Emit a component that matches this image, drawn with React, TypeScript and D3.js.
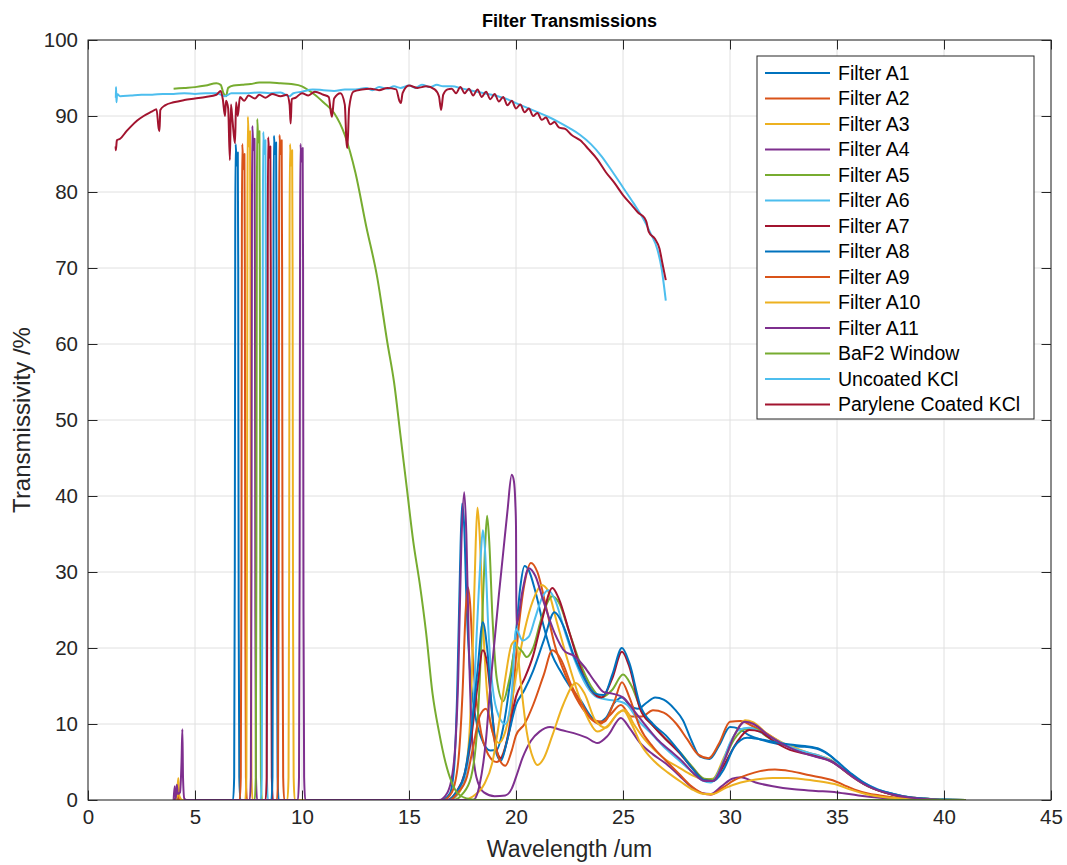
import React, { useEffect, useRef } from 'react'
import * as d3 from 'd3'

type Pt = [number, number]

const seriesNames = [
  'Filter A1', 'Filter A2', 'Filter A3', 'Filter A4', 'Filter A5', 'Filter A6',
  'Filter A7', 'Filter A8', 'Filter A9', 'Filter A10', 'Filter A11',
  'BaF2 Window', 'Uncoated KCl', 'Parylene Coated KCl',
]

const seriesColors = [
  '#0072BD', '#D95319', '#EDB120', '#7E2F8E', '#77AC30', '#4DBEEE', '#A2142F',
  '#0072BD', '#D95319', '#EDB120', '#7E2F8E', '#77AC30', '#4DBEEE', '#A2142F',
]

const xTicks = [0, 5, 10, 15, 20, 25, 30, 35, 40, 45]
const yTicks = [0, 10, 20, 30, 40, 50, 60, 70, 80, 90, 100]

// near-IR side lobes (~4 um)
const nearA1: Pt[] = [[4.0, 0], [4.08, 0], [4.12, 1.5], [4.16, 0.2], [4.3, 0]]
const nearA2: Pt[] = [[4.0, 0], [4.15, 0.4], [4.2, 1.2], [4.25, 0.2], [4.35, 0]]
const nearA4: Pt[] = [[4.0, 0], [4.05, 1.8], [4.1, 0.5], [4.2, 0]]
const nearA10: Pt[] = [[4.0, 0], [4.15, 0.3], [4.22, 2.9], [4.27, 0.5], [4.4, 0]]
const nearA11: Pt[] = [[4.0, 0], [4.1, 0.3], [4.15, 2], [4.2, 0.8], [4.3, 1], [4.37, 5], [4.41, 9.3], [4.44, 3], [4.5, 0.2], [4.6, 0]]
const nearNone: Pt[] = [[4.0, 0]]

// pass bands
const passA1: Pt[] = [[6.78, 0], [6.83, 3], [6.86, 30], [6.88, 75], [6.9, 86.3], [6.95, 83.5], [7.0, 85.2], [7.02, 70], [7.04, 25], [7.07, 3], [7.12, 0]]
const passA2: Pt[] = [[7.09, 0], [7.14, 3], [7.17, 30], [7.19, 75], [7.21, 86.3], [7.26, 83], [7.31, 85], [7.33, 70], [7.35, 25], [7.38, 3], [7.43, 0]]
const passA3: Pt[] = [[7.35, 0], [7.4, 3], [7.43, 32], [7.45, 78], [7.47, 89.9], [7.52, 86], [7.57, 88], [7.59, 72], [7.61, 26], [7.64, 3], [7.69, 0]]
const passA4: Pt[] = [[7.56, 0], [7.61, 3], [7.64, 31], [7.66, 77], [7.68, 88.7], [7.73, 85.5], [7.78, 87], [7.8, 71], [7.82, 25], [7.85, 3], [7.9, 0]]
const passA5: Pt[] = [[7.79, 0], [7.84, 3], [7.87, 32], [7.89, 78], [7.91, 89.6], [7.96, 86.5], [8.01, 88], [8.03, 72], [8.05, 26], [8.08, 3], [8.13, 0]]
const passA6: Pt[] = [[8.07, 0], [8.12, 3], [8.15, 31], [8.17, 76], [8.19, 87.9], [8.24, 85], [8.29, 86.8], [8.31, 70], [8.33, 25], [8.36, 3], [8.41, 0]]
const passA7: Pt[] = [[8.3, 0], [8.35, 3], [8.38, 30], [8.4, 75], [8.42, 87.2], [8.47, 84.5], [8.52, 86], [8.54, 70], [8.56, 25], [8.59, 3], [8.64, 0]]
const passA8: Pt[] = [[8.57, 0], [8.62, 3], [8.65, 30], [8.67, 76], [8.69, 87.4], [8.74, 85], [8.79, 86.5], [8.81, 70], [8.83, 25], [8.86, 3], [8.91, 0]]
const passA9: Pt[] = [[8.83, 0], [8.88, 3], [8.91, 30], [8.93, 76], [8.95, 87.5], [9.0, 85], [9.05, 86.8], [9.07, 70], [9.09, 25], [9.12, 3], [9.17, 0]]
const passA10: Pt[] = [[9.32, 0], [9.37, 3], [9.4, 30], [9.42, 75], [9.44, 86.3], [9.49, 83.5], [9.54, 85.5], [9.56, 70], [9.58, 25], [9.61, 3], [9.66, 0]]
const passA11: Pt[] = [[9.81, 0], [9.86, 3], [9.89, 30], [9.91, 75], [9.93, 86.3], [9.98, 84], [10.03, 85.8], [10.05, 70], [10.07, 25], [10.1, 3], [10.15, 0]]

// long-wave leaks
const leakA1: Pt[] = [[16.5, 0], [16.9, 0.8], [17.1, 4], [17.25, 14], [17.38, 30], [17.48, 39], [17.58, 36], [17.7, 25], [17.85, 17], [18.1, 11], [18.4, 8], [18.8, 6.5], [19.1, 6.6], [19.4, 9.5], [19.7, 15], [20.0, 22], [20.2, 28], [20.4, 30.8], [20.6, 30.2], [20.9, 27.5], [21.3, 22.8], [21.7, 19], [22.05, 17.1], [22.5, 15], [23.0, 13.2], [23.5, 11], [23.8, 10.2], [24.2, 10.8], [24.6, 12.8], [24.95, 13.5], [25.3, 12.5], [25.7, 12], [26.1, 12.8], [26.5, 13.5], [26.9, 13.2], [27.4, 12], [27.8, 10.5], [28.2, 7.8], [28.6, 5.7], [29.05, 5.4], [29.5, 7.2], [30.0, 9.6], [30.4, 9.4], [30.9, 8.5], [31.5, 7.9], [32.2, 7.4], [32.8, 7.1], [33.5, 7.0], [34.2, 6.6], [34.7, 5.8], [35.0, 5.0], [35.4, 4.0], [35.8, 3.0], [36.2, 2.2], [36.7, 1.5], [37.5, 0.9], [38.3, 0.4], [39.1, 0.2], [40, 0.05], [41, 0]]
const leakA2: Pt[] = [[16.6, 0], [17.0, 1], [17.3, 5], [17.5, 14], [17.65, 25], [17.75, 28], [17.85, 26], [18.0, 18], [18.3, 10], [18.7, 6], [19.1, 5], [19.5, 7], [19.8, 12], [20.1, 22], [20.4, 28.5], [20.7, 31.2], [21.0, 30], [21.4, 25.5], [21.8, 20.5], [22.3, 16.5], [22.8, 13.5], [23.4, 11], [23.9, 10], [24.4, 11.2], [24.9, 12.5], [25.4, 11], [25.9, 11], [26.4, 11.8], [26.9, 11.5], [27.5, 10], [28.0, 8], [28.5, 6], [29.0, 5.5], [29.5, 7.5], [30.0, 10.3], [30.5, 10.4], [31.0, 9.8], [31.8, 8.6], [32.6, 7.2], [33.4, 6.3], [34.2, 5.8], [35.0, 4.6], [35.5, 3.5], [36.0, 2.5], [36.6, 1.6], [37.2, 1.0], [38.0, 0.5], [39.0, 0.2], [40, 0.05], [41, 0]]
const leakA3: Pt[] = [[16.9, 0], [17.3, 0.8], [17.6, 3], [17.85, 10], [18.0, 22], [18.12, 34], [18.2, 38.5], [18.3, 35], [18.45, 24], [18.65, 14], [18.9, 9], [19.2, 7.5], [19.5, 9], [19.8, 13], [20.1, 18], [20.5, 23.5], [20.9, 27], [21.2, 28.3], [21.5, 27.5], [21.9, 23.5], [22.4, 18.5], [22.9, 14], [23.4, 10.5], [23.8, 9], [24.3, 9.8], [24.8, 11.5], [25.1, 11.8], [25.5, 10], [26.0, 8], [26.5, 6.5], [27.0, 5.3], [27.6, 4.3], [28.2, 3.3], [28.8, 2.7], [29.2, 2.8], [29.7, 5.5], [30.2, 8.5], [30.7, 10.5], [31.1, 10.2], [31.7, 8.8], [32.4, 7.6], [33.2, 6.7], [34.0, 5.9], [34.7, 5.3], [35.2, 4.3], [35.7, 3.2], [36.2, 2.2], [36.8, 1.4], [37.5, 0.8], [38.3, 0.4], [39.2, 0.15], [40, 0.05], [41, 0]]
const leakA4: Pt[] = [[16.4, 0], [16.8, 1], [17.1, 5], [17.3, 16], [17.45, 34], [17.58, 40.5], [17.68, 35], [17.8, 20], [17.95, 8], [18.15, 3], [18.5, 1], [19.0, 0.5], [19.5, 0.6], [19.8, 1.5], [20.0, 3], [20.3, 5.5], [20.7, 7.8], [21.1, 9], [21.6, 9.6], [22.1, 9.2], [22.7, 8.8], [23.3, 8.2], [23.8, 7.5], [24.3, 8.5], [24.9, 10.8], [25.3, 9.5], [25.8, 7.5], [26.4, 6], [27.0, 4.8], [27.6, 3.3], [28.2, 1.7], [28.7, 0.9], [29.1, 0.8], [29.6, 1.8], [30.1, 2.8], [30.5, 3.0], [31.2, 2.3], [32.0, 1.8], [33.0, 1.4], [34.0, 1.2], [35.0, 1.0], [36.0, 0.6], [37.0, 0.3], [38.0, 0.1], [39.0, 0], [41, 0]]
const leakA5: Pt[] = [[17.1, 0], [17.5, 0.8], [17.9, 3], [18.2, 10], [18.4, 22], [18.55, 33], [18.65, 37.4], [18.75, 34], [18.9, 24], [19.1, 16], [19.4, 13], [19.7, 16], [20.0, 20.2], [20.3, 19.5], [20.5, 18.8], [20.8, 20], [21.2, 24], [21.7, 26.8], [22.0, 26], [22.5, 22], [23.0, 18], [23.5, 15], [24.0, 13.5], [24.5, 14.5], [25.0, 16.5], [25.4, 15], [25.9, 11.5], [26.5, 9.5], [27.0, 8], [27.6, 6.5], [28.2, 4.5], [28.8, 2.8], [29.2, 2.7], [29.6, 4.5], [30.2, 8], [30.7, 9.3], [31.1, 9.4], [31.8, 8.2], [32.5, 7.3], [33.3, 6.4], [34.0, 5.8], [34.7, 5.2], [35.2, 4.2], [35.8, 3], [36.3, 2.1], [36.9, 1.3], [37.6, 0.7], [38.4, 0.3], [39.3, 0.1], [40, 0], [41, 0]]
const leakA6: Pt[] = [[16.9, 0], [17.3, 1], [17.7, 4], [18.0, 12], [18.2, 24], [18.35, 32], [18.45, 35.5], [18.55, 33], [18.7, 23], [18.9, 15], [19.2, 11], [19.5, 10], [19.8, 14], [20.0, 22.5], [20.3, 21], [20.6, 21.5], [20.9, 24], [21.2, 26.5], [21.5, 27.6], [21.8, 26.5], [22.3, 22], [22.8, 18], [23.3, 15], [23.8, 13.5], [24.3, 13.2], [24.8, 13], [25.2, 12.5], [25.7, 10.5], [26.3, 8.8], [26.9, 7], [27.5, 5.5], [28.1, 4], [28.7, 2.6], [29.1, 2.3], [29.6, 4.5], [30.0, 7.5], [30.4, 9.2], [30.9, 9.5], [31.5, 8.8], [32.2, 7.8], [33.0, 6.8], [33.7, 6.2], [34.4, 5.6], [35.0, 4.8], [35.5, 3.8], [36.0, 2.7], [36.6, 1.8], [37.3, 1.0], [38.1, 0.5], [39.0, 0.2], [40, 0.05], [41, 0]]
const leakA7: Pt[] = [[16.8, 0], [17.2, 1], [17.6, 3.5], [17.9, 8], [18.2, 15], [18.45, 19.7], [18.65, 18], [18.9, 11], [19.1, 6.5], [19.3, 5.5], [19.6, 8], [20.0, 13.6], [20.4, 16], [20.8, 19], [21.2, 23.5], [21.7, 27.9], [22.0, 26.5], [22.5, 22], [23.0, 17.5], [23.5, 14.5], [24.0, 13.5], [24.5, 16], [24.95, 19.5], [25.3, 17.5], [25.8, 12], [26.4, 9.8], [27.0, 8], [27.6, 6.3], [28.2, 4.3], [28.8, 2.6], [29.2, 2.5], [29.7, 4.5], [30.3, 7.5], [30.9, 9.2], [31.4, 9], [32.0, 7.8], [32.8, 6.6], [33.5, 6.1], [34.2, 5.6], [34.8, 5.0], [35.3, 4.0], [35.8, 3.0], [36.3, 2.1], [36.9, 1.3], [37.6, 0.7], [38.4, 0.3], [39.3, 0.1], [40, 0], [41, 0]]
const leakA8: Pt[] = [[16.8, 0], [17.2, 1], [17.6, 3.5], [17.9, 9], [18.2, 17], [18.45, 23.4], [18.65, 20], [18.9, 11], [19.1, 6], [19.3, 5.2], [19.6, 8], [20.0, 12.5], [20.4, 14.5], [20.8, 17], [21.3, 21], [21.8, 24.7], [22.2, 23], [22.7, 19], [23.2, 16], [23.7, 14], [24.1, 13.8], [24.5, 16.5], [24.95, 20], [25.3, 18], [25.8, 12.5], [26.4, 10], [27.0, 8.5], [27.6, 6.5], [28.2, 4.3], [28.8, 2.6], [29.2, 2.5], [29.7, 4], [30.2, 7], [30.8, 8.2], [31.4, 8], [32.1, 7.6], [32.8, 7.3], [33.5, 7.1], [34.2, 6.7], [34.8, 5.6], [35.2, 4.6], [35.7, 3.4], [36.2, 2.4], [36.8, 1.5], [37.5, 0.9], [38.3, 0.4], [39.1, 0.2], [40, 0.05], [41, 0]]
const leakA9: Pt[] = [[16.9, 0], [17.3, 1], [17.7, 3], [18.0, 7], [18.3, 11], [18.6, 12], [18.9, 9], [19.2, 5.5], [19.5, 4.5], [19.8, 6.5], [20.0, 8.5], [20.4, 10], [20.8, 12.5], [21.3, 16.5], [21.7, 19.7], [22.1, 18.5], [22.6, 15], [23.1, 12.5], [23.6, 10.5], [24.1, 10.3], [24.6, 13], [24.95, 15.5], [25.3, 13.5], [25.8, 9.5], [26.4, 7], [27.0, 5.2], [27.6, 3.5], [28.2, 1.8], [28.7, 0.9], [29.1, 0.7], [29.6, 1.5], [30.2, 2.6], [30.8, 3.3], [31.4, 3.8], [32.1, 4.0], [32.8, 3.8], [33.5, 3.4], [34.2, 3.0], [34.8, 2.6], [35.3, 2.0], [35.8, 1.4], [36.4, 0.9], [37.0, 0.6], [37.8, 0.3], [38.7, 0.1], [40, 0], [41, 0]]
const leakA10: Pt[] = [[17.5, 0], [18.0, 0.5], [18.5, 2], [18.9, 5], [19.2, 10], [19.5, 16], [19.8, 20.5], [20.0, 21], [20.2, 16], [20.5, 9], [20.8, 5.5], [21.0, 4.6], [21.3, 5.5], [21.7, 8.5], [22.2, 12.5], [22.8, 15.4], [23.2, 14], [23.7, 10.5], [24.2, 9.5], [24.7, 11.2], [25.0, 11.8], [25.4, 10], [25.9, 7], [26.5, 5], [27.1, 3.6], [27.7, 2.4], [28.3, 1.3], [28.8, 0.8], [29.2, 0.8], [29.8, 1.6], [30.5, 2.3], [31.2, 2.7], [32.0, 2.9], [32.7, 2.9], [33.5, 2.7], [34.3, 2.4], [35.0, 2.0], [35.6, 1.4], [36.2, 0.9], [36.9, 0.5], [37.7, 0.25], [38.6, 0.1], [40, 0], [41, 0]]
const leakA11: Pt[] = [[18.0, 0], [18.3, 2], [18.6, 8], [18.8, 15], [19.0, 21], [19.2, 27], [19.4, 32.5], [19.6, 38], [19.8, 42.8], [19.9, 42], [19.97, 39], [20.0, 36], [20.02, 23], [20.3, 27.5], [20.6, 30.5], [20.9, 29.5], [21.3, 26], [21.8, 22], [22.3, 19.5], [22.7, 19], [23.2, 17.5], [23.7, 15.5], [24.1, 14.2], [24.5, 14], [25.0, 13.5], [25.5, 11.8], [26.0, 10], [26.6, 8], [27.2, 6.5], [27.8, 5], [28.3, 3.5], [28.8, 2.5], [29.2, 2.5], [29.7, 5], [30.2, 8.5], [30.7, 10.3], [31.1, 10], [31.8, 8.5], [32.5, 7.3], [33.3, 6.3], [34.0, 5.7], [34.7, 5.1], [35.2, 4.2], [35.7, 3.1], [36.2, 2.2], [36.8, 1.4], [37.5, 0.8], [38.3, 0.35], [39.2, 0.1], [40, 0], [41, 0]]

const baf2Window: Pt[] = [[4.0, 93.6], [4.5, 93.7], [5.0, 93.8], [5.5, 94.0], [6.0, 94.3], [6.2, 94.1], [6.33, 93.0], [6.45, 92.6], [6.55, 93.7], [6.8, 94.0], [7.2, 94.1], [7.6, 94.2], [8.0, 94.4], [8.5, 94.4], [9.0, 94.3], [9.5, 94.2], [10.0, 93.9], [10.3, 93.4], [10.6, 92.8], [11.0, 91.8], [11.5, 90.4], [12.0, 87.5], [12.5, 82.5], [13.0, 75.5], [13.5, 69.0], [14.0, 60.0], [14.3, 55.0], [14.6, 48.0], [14.9, 41.0], [15.2, 34.0], [15.5, 28.5], [15.8, 22.0], [16.1, 14.0], [16.4, 9.0], [16.7, 5.0], [17.0, 2.3], [17.3, 0.8], [17.7, 0.2], [18.2, 0], [41, 0]]

const uncoatedKCl: Pt[] = [[1.3, 92.4], [1.31, 93.8], [1.33, 91.8], [1.36, 92.9], [1.5, 92.6], [2.0, 92.7], [2.5, 92.8], [3.0, 92.8], [3.5, 92.9], [4.0, 92.9], [4.5, 93.0], [5.0, 92.9], [5.5, 93.0], [6.0, 93.0], [6.4, 92.6], [6.7, 93.0], [7.0, 93.0], [7.5, 93.0], [8.0, 93.1], [8.5, 93.0], [9.0, 93.1], [9.4, 92.6], [9.6, 93.0], [10.0, 93.2], [10.5, 93.5], [11.0, 93.4], [11.5, 93.3], [12.0, 93.5], [12.5, 93.5], [13.0, 93.7], [13.3, 93.4], [13.6, 93.8], [14.0, 93.6], [14.3, 93.9], [14.6, 93.7], [15.0, 94.0], [15.3, 93.7], [15.6, 94.1], [16.0, 93.8], [16.3, 94.1], [16.6, 93.9], [17.0, 93.9], [17.5, 93.6], [18.0, 93.3], [18.5, 93.0], [19.0, 92.7], [19.5, 92.3], [20.0, 91.7], [20.5, 91.1], [21.0, 90.5], [21.5, 89.9], [22.0, 89.2], [22.5, 88.4], [23.0, 87.5], [23.5, 86.3], [24.0, 84.7], [24.5, 82.7], [25.0, 80.6], [25.5, 78.5], [26.0, 76.2], [26.3, 74.5], [26.6, 72.5], [26.8, 70.0], [27.0, 65.7]]

const paryleneKCl: Pt[] = [[1.29, 86.0], [1.3, 85.5], [1.35, 86.8], [1.5, 87.0], [1.8, 88.0], [2.0, 88.6], [2.3, 89.4], [2.6, 90.0], [3.0, 90.6], [3.2, 90.9], [3.3, 88.4], [3.34, 88.0], [3.38, 90.8], [3.6, 91.4], [4.0, 91.8], [4.5, 92.1], [5.0, 92.3], [5.5, 92.5], [6.0, 92.8], [6.2, 93.3], [6.3, 92.2], [6.4, 90.0], [6.45, 92.0], [6.55, 91.0], [6.63, 84.2], [6.68, 91.5], [6.75, 89.5], [6.87, 86.4], [6.92, 91.8], [7.0, 90.0], [7.1, 92.5], [7.3, 92.0], [7.5, 92.7], [7.8, 92.3], [8.0, 92.8], [8.3, 92.4], [8.6, 92.9], [9.0, 92.6], [9.3, 92.8], [9.42, 91.5], [9.47, 89.0], [9.52, 92.2], [9.7, 92.4], [10.0, 93.0], [10.3, 92.7], [10.6, 93.2], [11.0, 92.8], [11.25, 92.5], [11.35, 90.5], [11.4, 89.9], [11.5, 92.3], [11.8, 93.0], [12.0, 91.5], [12.08, 86.5], [12.12, 85.8], [12.2, 91.0], [12.4, 93.2], [12.8, 93.5], [13.2, 93.6], [13.6, 93.4], [14.0, 93.7], [14.4, 93.5], [14.55, 92.0], [14.62, 91.7], [14.7, 93.0], [15.0, 94.0], [15.4, 93.7], [15.8, 93.9], [16.2, 93.5], [16.4, 92.6], [16.5, 90.8], [16.6, 92.8], [16.8, 93.5], [17.0, 93.6], [17.2, 93.0], [17.4, 93.8], [17.6, 93.0], [17.8, 93.6], [18.0, 92.7], [18.2, 93.5], [18.4, 92.5], [18.6, 93.2], [18.8, 92.2], [19.0, 92.9], [19.2, 91.9], [19.4, 92.5], [19.6, 91.4], [19.8, 92.0], [20.0, 91.0], [20.2, 91.5], [20.4, 90.5], [20.6, 91.0], [20.8, 90.0], [21.0, 90.4], [21.2, 89.5], [21.4, 89.8], [21.6, 88.9], [21.8, 89.2], [22.0, 88.5], [22.3, 88.3], [22.6, 87.5], [23.0, 86.8], [23.4, 85.6], [23.8, 84.3], [24.2, 82.6], [24.6, 81.2], [25.0, 79.6], [25.4, 78.3], [25.7, 77.3], [26.0, 76.6], [26.1, 76.0], [26.2, 74.8], [26.5, 73.8], [26.7, 72.6], [26.85, 70.5], [27.0, 68.4]]

const allSeries: Pt[][] = [
  [...nearA1, ...passA1, ...leakA1],
  [...nearA2, ...passA2, ...leakA2],
  [...nearNone, ...passA3, ...leakA3],
  [...nearA4, ...passA4, ...leakA4],
  [...nearNone, ...passA5, ...leakA5],
  [...nearNone, ...passA6, ...leakA6],
  [...nearNone, ...passA7, ...leakA7],
  [...nearNone, ...passA8, ...leakA8],
  [...nearNone, ...passA9, ...leakA9],
  [...nearA10, ...passA10, ...leakA10],
  [...nearA11, ...passA11, ...leakA11],
  baf2Window,
  uncoatedKCl,
  paryleneKCl,
]

const App = () => {
  const svgRef = useRef<SVGSVGElement>(null)

  useEffect(() => {
    const W = 1067
    const H = 865
    const margin = { top: 40, right: 16, bottom: 65, left: 88 }
    const plotW = W - margin.left - margin.right
    const plotH = H - margin.top - margin.bottom
    const axisColor = '#262626'
    const gridColor = '#e0e0e0'
    const font = '"Liberation Sans", Arial, Helvetica, sans-serif'
    const tickLen = 9.5

    const svg = d3.select(svgRef.current)
    svg.selectAll('*').remove()

    const x = d3.scaleLinear().domain([0, 45]).range([margin.left, margin.left + plotW])
    const y = d3.scaleLinear().domain([0, 100]).range([margin.top + plotH, margin.top])

    svg.append('rect').attr('width', W).attr('height', H).attr('fill', '#fff')

    // grid
    const grid = svg.append('g')
    grid.selectAll('line.gx').data(xTicks).enter().append('line')
      .attr('x1', (d) => x(d)).attr('x2', (d) => x(d))
      .attr('y1', margin.top).attr('y2', margin.top + plotH)
      .attr('stroke', gridColor).attr('stroke-width', 1)
    grid.selectAll('line.gy').data(yTicks).enter().append('line')
      .attr('x1', margin.left).attr('x2', margin.left + plotW)
      .attr('y1', (d) => y(d)).attr('y2', (d) => y(d))
      .attr('stroke', gridColor).attr('stroke-width', 1)

    svg.append('defs').append('clipPath').attr('id', 'plot-clip')
      .append('rect')
      .attr('x', margin.left).attr('y', margin.top)
      .attr('width', plotW).attr('height', plotH)

    const line = d3.line<Pt>()
      .x((d) => x(d[0]))
      .y((d) => y(d[1]))
      .curve(d3.curveMonotoneX)

    const lines = svg.append('g').attr('clip-path', 'url(#plot-clip)')
    allSeries.forEach((data, i) => {
      lines.append('path')
        .attr('d', line(data))
        .attr('fill', 'none')
        .attr('stroke', seriesColors[i])
        .attr('stroke-width', 2)
        .attr('stroke-linejoin', 'round')
    })

    // axes
    const styleAxis = (g: any) => {
      g.select('.domain').remove()
      g.selectAll('.tick line').attr('stroke', axisColor)
      g.selectAll('.tick text').attr('fill', axisColor)
      g.attr('font-family', font).attr('font-size', 20.5)
    }
    svg.append('g')
      .attr('transform', `translate(0,${margin.top + plotH})`)
      .call(d3.axisBottom(x).tickValues(xTicks).tickSizeInner(-tickLen).tickSizeOuter(0).tickPadding(9))
      .call(styleAxis)
    svg.append('g')
      .attr('transform', `translate(${margin.left},0)`)
      .call(d3.axisLeft(y).tickValues(yTicks).tickSizeInner(-tickLen).tickSizeOuter(0).tickPadding(10))
      .call(styleAxis)
    svg.append('g')
      .attr('transform', `translate(0,${margin.top})`)
      .call(d3.axisTop(x).tickValues(xTicks).tickSizeInner(-tickLen).tickSizeOuter(0).tickFormat(() => ''))
      .call(styleAxis)
    svg.append('g')
      .attr('transform', `translate(${margin.left + plotW},0)`)
      .call(d3.axisRight(y).tickValues(yTicks).tickSizeInner(-tickLen).tickSizeOuter(0).tickFormat(() => ''))
      .call(styleAxis)

    svg.append('rect')
      .attr('x', margin.left).attr('y', margin.top)
      .attr('width', plotW).attr('height', plotH)
      .attr('fill', 'none').attr('stroke', axisColor).attr('stroke-width', 1)

    // labels
    svg.append('text')
      .attr('x', margin.left + plotW / 2).attr('y', 27)
      .attr('text-anchor', 'middle')
      .style('font-family', font).style('font-size', '18px').style('font-weight', 'bold')
      .style('fill', '#000')
      .text('Filter Transmissions')

    svg.append('text')
      .attr('x', margin.left + plotW / 2).attr('y', 857)
      .attr('text-anchor', 'middle')
      .style('font-family', font).style('font-size', '23px')
      .style('fill', axisColor)
      .text('Wavelength /um')

    svg.append('text')
      .attr('transform', 'rotate(-90)')
      .attr('x', -(margin.top + plotH / 2)).attr('y', 30)
      .attr('text-anchor', 'middle')
      .style('font-family', font).style('font-size', '24px')
      .style('fill', axisColor)
      .text('Transmissivity /%')

    // legend
    const legend = svg.append('g')
    legend.append('rect')
      .attr('x', 757).attr('y', 56).attr('width', 277).attr('height', 363)
      .attr('fill', '#fff').attr('stroke', axisColor).attr('stroke-width', 1)
    seriesNames.forEach((name, i) => {
      const ly = 73 + i * 25.5
      legend.append('line')
        .attr('x1', 765).attr('x2', 830).attr('y1', ly).attr('y2', ly)
        .attr('stroke', seriesColors[i]).attr('stroke-width', 2)
      legend.append('text')
        .attr('x', 838).attr('y', ly).attr('dy', '0.35em')
        .style('font-family', font).style('font-size', '19.5px')
        .style('fill', '#000')
        .text(name)
    })
  }, [])

  return (
    <svg
      ref={svgRef}
      width={1067}
      height={865}
      style={{ position: 'absolute', left: 0, top: 0, display: 'block' }}
    />
  )
}

export default App
